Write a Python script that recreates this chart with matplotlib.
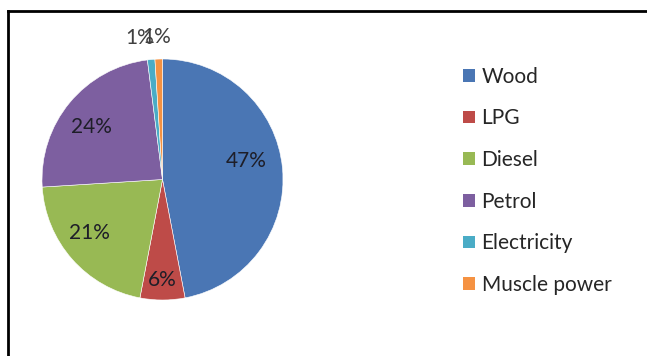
import numpy as np
import matplotlib.pyplot as plt
from matplotlib.lines import Line2D
from matplotlib.patches import Patch

# energy sources and their share
sources = ["Wood", "LPG", "Diesel", "Petrol", "Electricity", "Muscle power"]
shares = [47, 6, 21, 24, 1, 1]
colors = ["#4a76b4", "#be4b48", "#98b954", "#7d5fa0", "#4aacc6", "#f59242"]

plt.rcParams['font.family'] = ['Lato', 'DejaVu Sans']

fig = plt.figure(figsize=(6.47, 3.56), dpi=100)
ax = fig.add_axes([0.0649, 0.1573, 0.3725, 0.677])

wedges, _ = ax.pie(shares, colors=colors, startangle=90, counterclock=False,
                   radius=1, wedgeprops=dict(edgecolor="white", linewidth=0.4))
ax.set_xlim(-1, 1)
ax.set_ylim(-1, 1)
ax.set_aspect('equal')
ax.axis('off')

# where each percentage goes: distance from centre and small angle nudge
label_r = [0.71, 0.83, 0.75, 0.73, 1.19, 1.18]
label_nudge = [7, 0, -5, 3, 3.6, 0.4]
for w, val, r, nudge in zip(wedges, shares, label_r, label_nudge):
    mid = np.deg2rad((w.theta1 + w.theta2) / 2 + nudge)
    col = "#1e1e28" if r < 1 else "#404040"
    ax.text(r * np.cos(mid), r * np.sin(mid), "%d%%" % val, ha='center', va='center',
            fontsize=15, color=col, clip_on=False)

# legend with square markers
handles = [Patch(facecolor=c, edgecolor='none') for c in colors]
fig.legend(handles, sources, loc='upper left', bbox_to_anchor=(0.687, 0.865),
           frameon=False, fontsize=15, handlelength=0.55, handleheight=0.55,
           handletextpad=0.33, labelspacing=1.04, labelcolor="#262626")

# outer frame, top and left only
fig.add_artist(Line2D([8 / 647, 1], [1 - 10.5 / 356, 1 - 10.5 / 356], color='black', lw=2))
fig.add_artist(Line2D([8 / 647, 8 / 647], [0, 1 - 10.5 / 356], color='black', lw=2))

fig.savefig("out.png", dpi=100)
